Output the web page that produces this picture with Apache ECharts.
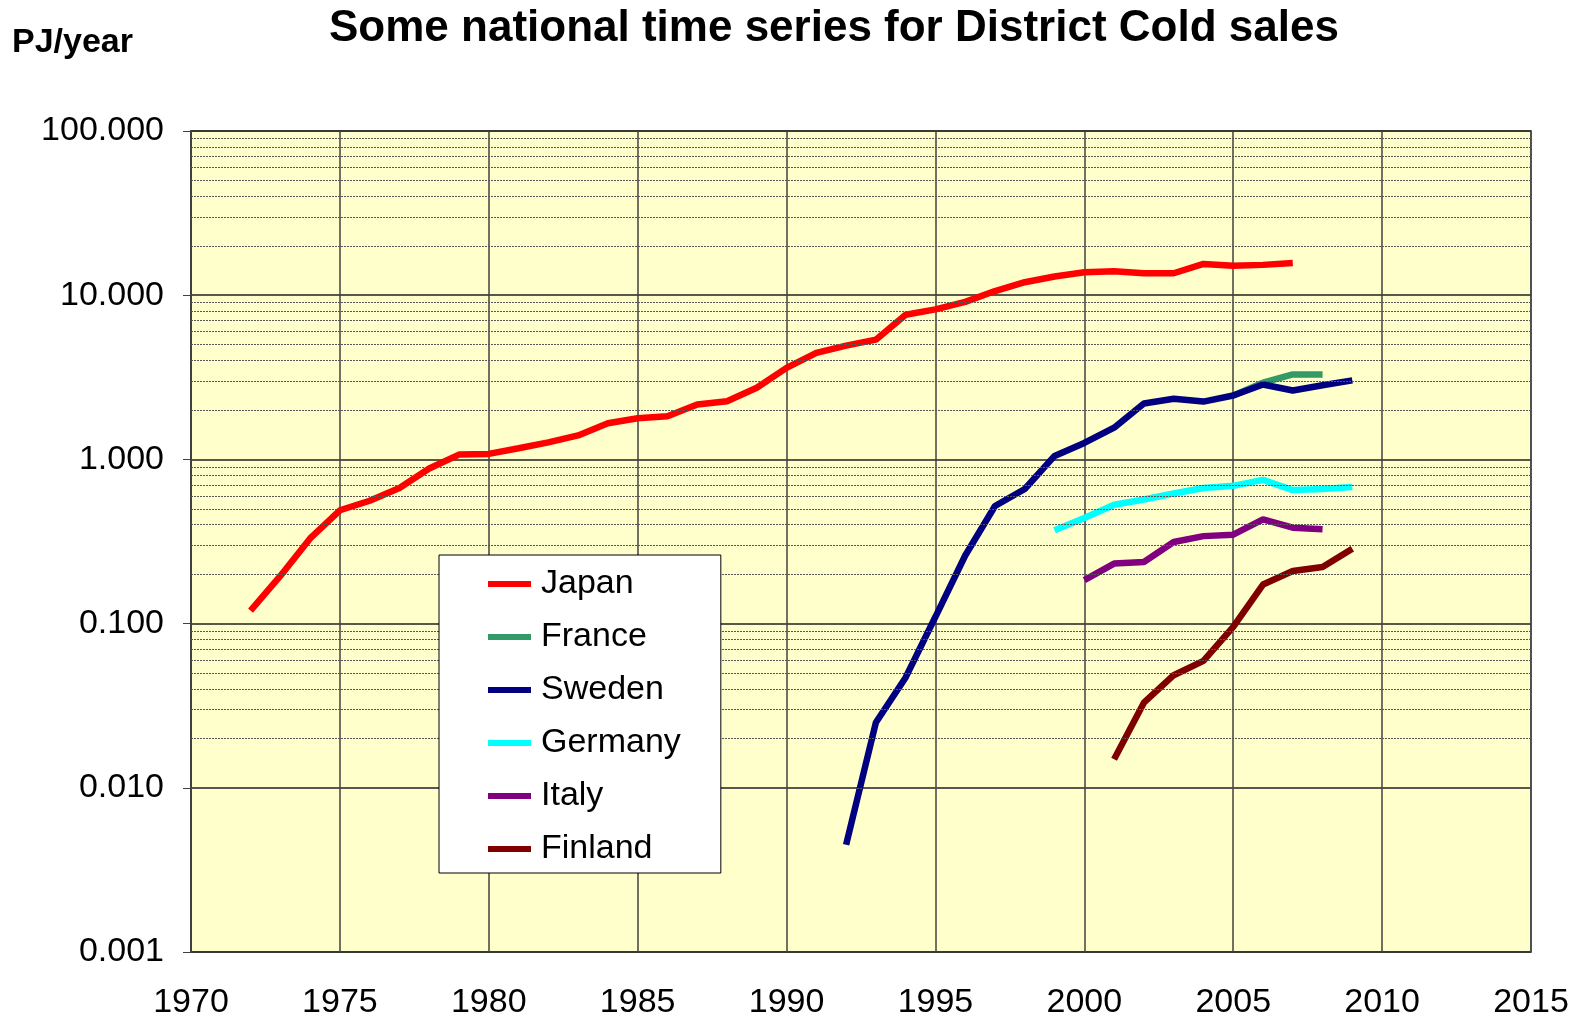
<!DOCTYPE html>
<html>
<head>
<meta charset="utf-8">
<title>District Cold sales</title>
<script src="https://cdn.jsdelivr.net/npm/echarts@6/dist/echarts.min.js"></script>
<style>
    html, body { margin: 0; padding: 0; background: #fff; }
    #main { width: 1579px; height: 1020px; }
</style>
</head>
<body>
<div id="main"></div>
<script>
// 数据 (PJ/year) --- BEGIN
var countries = ['Japan', 'France', 'Sweden', 'Germany', 'Italy', 'Finland'];
var colors = ['#ff0000', '#339966', '#000080', '#00ffff', '#800080', '#800000'];
var startYears = [1972, 2005, 1992, 1999, 2000, 2001];

var japan = [0.12, 0.195, 0.33, 0.49, 0.56, 0.67, 0.88, 1.07, 1.08, 1.17,
    1.27, 1.40, 1.66, 1.78, 1.83, 2.16, 2.26, 2.73, 3.61, 4.45,
    4.93, 5.36, 7.6, 8.2, 9.1, 10.6, 12.0, 13.0, 13.8, 14.0,
    13.6, 13.6, 15.5, 15.1, 15.3, 15.7];
var france = [2.45, 2.93, 3.29, 3.29];
var sweden = [0.0045, 0.025, 0.047, 0.11, 0.26, 0.52, 0.66, 1.05, 1.26, 1.56,
    2.19, 2.34, 2.25, 2.45, 2.86, 2.63, 2.83, 3.03];
var germany = [0.37, 0.44, 0.53, 0.57, 0.62, 0.67, 0.69, 0.75, 0.65, 0.66, 0.68];
var italy = [0.184, 0.232, 0.237, 0.314, 0.341, 0.348, 0.431, 0.384, 0.375];
var finland = [0.0149, 0.033, 0.0485, 0.0593, 0.0955, 0.173, 0.209, 0.221, 0.286];

var xTicks = [1970, 1975, 1980, 1985, 1990, 1995, 2000, 2005, 2010, 2015];
var yTicks = [0.001, 0.01, 0.1, 1, 10, 100];
// 数据 --- END

var values = [japan, france, sweden, germany, italy, finland];

//把年份和数值拼成点
function toPoints(start, arr) {
    var pts = [];
    for (var i = 0; i < arr.length; i++) {
        pts.push([start + i, arr[i]]);
    }
    return pts;
}

//对数轴的次网格线 2..9 x 10^n
var minorLines = [];
for (var d = 0; d < yTicks.length - 1; d++) {
    for (var k = 2; k <= 9; k++) {
        minorLines.push({ yAxis: Number((k * yTicks[d]).toPrecision(2)) });
    }
}

var series = [{
    name: 'minor',
    type: 'line',
    data: [],
    z: 1,
    silent: true,
    markLine: {
        silent: true,
        symbol: ['none', 'none'],
        label: { show: false },
        lineStyle: { color: '#555', width: 1, type: [2, 1] },
        data: minorLines
    }
}];
for (var s = 0; s < countries.length; s++) {
    series.push({
        name: countries[s],
        type: 'line',
        data: toPoints(startYears[s], values[s]),
        showSymbol: false,
        z: 3,
        color: colors[s],
        lineStyle: { width: 6.5, color: colors[s] }
    });
}

var chart = echarts.init(document.getElementById('main'));
var option = {
    animation: false,
    title: [{
        text: 'Some national time series for District Cold sales',
        left: 324,
        top: 2,
        textStyle: { fontFamily: 'Liberation Sans', fontSize: 44, fontWeight: 'bold', color: '#000' }
    }, {
        text: 'PJ/year',
        left: 7,
        top: 21,
        textStyle: { fontFamily: 'Liberation Sans', fontSize: 34, fontWeight: 'bold', color: '#000' }
    }],
    legend: {
        data: countries,
        orient: 'vertical',
        left: 439,
        top: 555,
        z: 20,
        icon: 'rect',
        itemWidth: 43,
        itemHeight: 6,
        itemGap: 19,
        padding: [12, 40, 7, 49],
        backgroundColor: '#fff',
        borderColor: '#000',
        borderWidth: 1,
        borderRadius: 0,
        textStyle: { fontFamily: 'Liberation Sans', fontSize: 34, lineHeight: 34, color: '#000', padding: [0, 0, 0, 5] }
    },
    grid: {
        left: 191,
        top: 131,
        width: 1340,
        height: 822,
        show: true,
        backgroundColor: '#ffffcc',
        borderColor: '#808080',
        borderWidth: 2
    },
    xAxis: {
        type: 'value',
        min: xTicks[0],
        max: xTicks[xTicks.length - 1],
        interval: 5,
        axisLine: { show: false },
        axisTick: { show: false },
        axisLabel: {
            margin: 34,
            fontFamily: 'Liberation Sans',
            fontSize: 34,
            color: '#000',
            formatter: function(v) { return String(v); }
        },
        splitLine: { show: true, lineStyle: { color: '#404040', width: 1.5 } }
    },
    yAxis: {
        type: 'log',
        logBase: 10,
        min: yTicks[0],
        max: yTicks[yTicks.length - 1],
        axisLine: { show: true, lineStyle: { color: '#404040', width: 2 } },
        axisTick: { show: true, length: 8, lineStyle: { color: '#404040' } },
        axisLabel: {
            margin: 27,
            fontFamily: 'Liberation Sans',
            fontSize: 34,
            color: '#000',
            formatter: function(v) { return Number(v).toFixed(3); }
        },
        splitLine: { show: true, lineStyle: { color: '#202020', width: 1.5 } }
    },
    series: series
};
chart.setOption(option);
</script>
</body>
</html>
